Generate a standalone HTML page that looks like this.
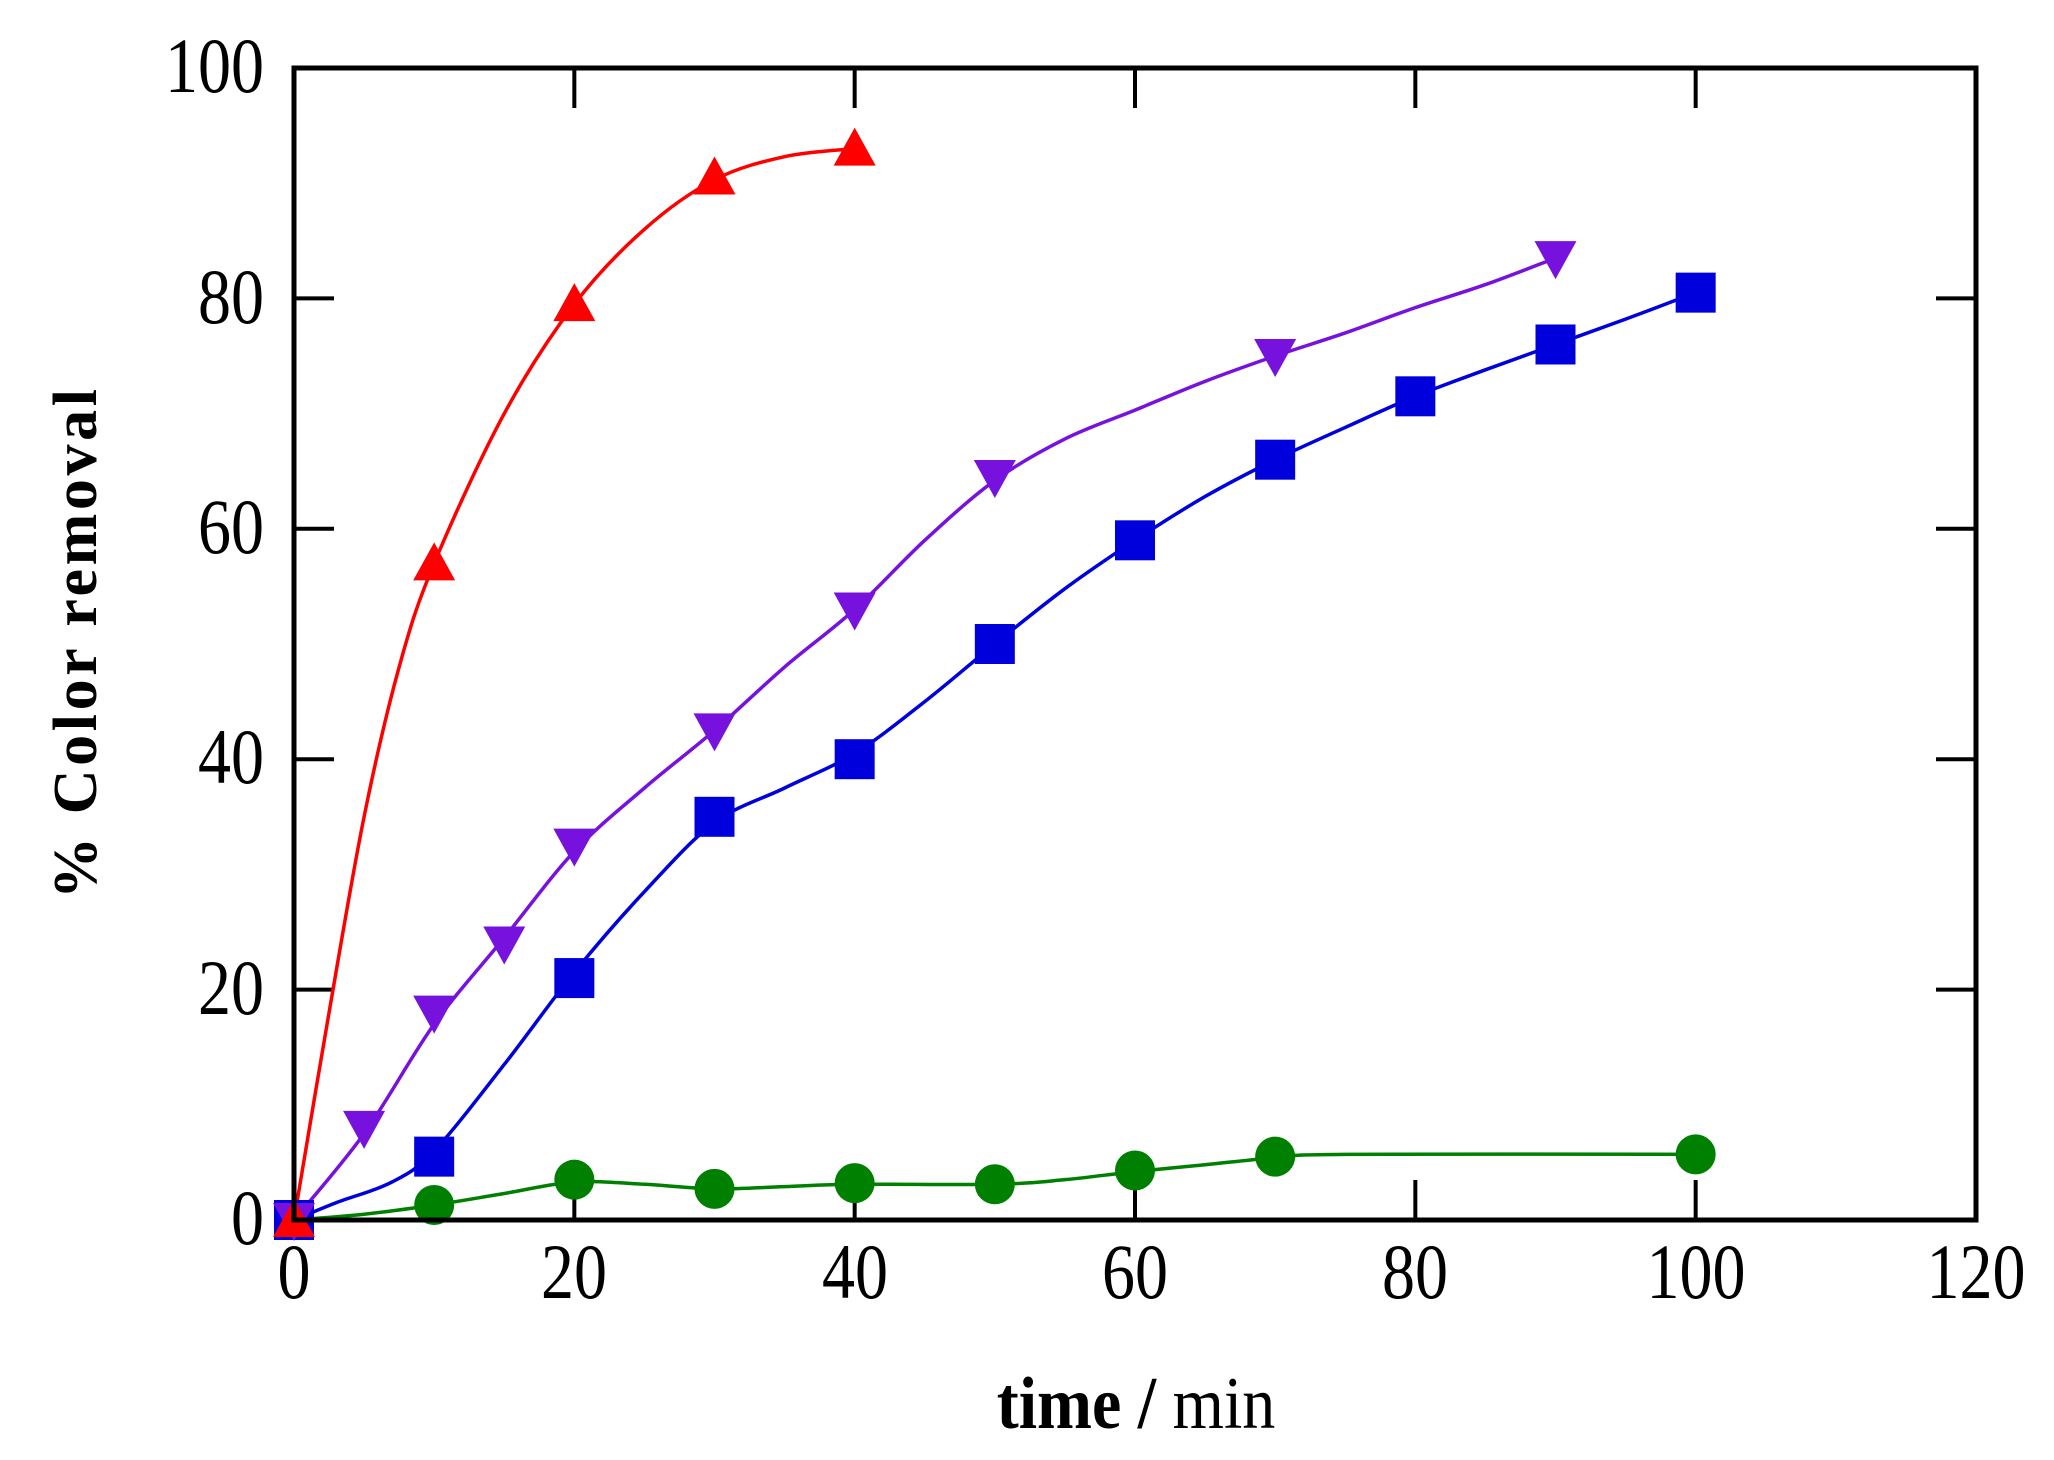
<!DOCTYPE html>
<html><head><meta charset="utf-8"><style>
html,body{margin:0;padding:0;background:#fff;}
svg{display:block;}
text{font-family:"Liberation Serif",serif;}
</style></head><body>
<svg id="s" width="2054" height="1460" viewBox="0 0 2054 1460" xmlns="http://www.w3.org/2000/svg">
<g id="ticks" stroke="#000" stroke-width="4"></g>
<g id="curves" fill="none" stroke-width="3.5"></g>
<g id="marks"></g>
<rect x="294" y="68" width="1682" height="1152" fill="none" stroke="#000" stroke-width="5"/>
<g font-size="66" fill="#000">
<g transform="translate(0,1298) scale(1,1.18)">
<text x="294" y="0" text-anchor="middle">0</text>
<text x="574" y="0" text-anchor="middle">20</text>
<text x="855" y="0" text-anchor="middle">40</text>
<text x="1135" y="0" text-anchor="middle">60</text>
<text x="1415" y="0" text-anchor="middle">80</text>
<text x="1696" y="0" text-anchor="middle">100</text>
<text x="1976" y="0" text-anchor="middle">120</text>
</g>
<g transform="translate(0,1244) scale(1,1.18)"><text x="264" y="0" text-anchor="end">0</text></g>
<g transform="translate(0,1014) scale(1,1.18)"><text x="264" y="0" text-anchor="end">20</text></g>
<g transform="translate(0,783) scale(1,1.18)"><text x="264" y="0" text-anchor="end">40</text></g>
<g transform="translate(0,553) scale(1,1.18)"><text x="264" y="0" text-anchor="end">60</text></g>
<g transform="translate(0,323) scale(1,1.18)"><text x="264" y="0" text-anchor="end">80</text></g>
<g transform="translate(0,92) scale(1,1.18)"><text x="264" y="0" text-anchor="end">100</text></g>
</g>
<text transform="translate(96,644) rotate(-90)" text-anchor="middle" font-size="62" font-weight="bold" textLength="510">% Color removal</text>
<g transform="translate(1136,1428) scale(1,1.12)"><text x="0" y="0" text-anchor="middle" font-size="66"><tspan font-weight="bold">time /</tspan> min</text></g>
</svg>
<script>
var X=v=>294+v*1682/120, Y=v=>1220-v*11.52;
var ns="http://www.w3.org/2000/svg";
function el(p,t,a){var e=document.createElementNS(ns,t);for(var k in a)e.setAttribute(k,a[k]);p.appendChild(e);return e;}
var tk=document.getElementById('ticks');
for(var i=20;i<=100;i+=20){el(tk,'line',{x1:X(i),x2:X(i),y1:1220,y2:1180});el(tk,'line',{x1:X(i),x2:X(i),y1:68,y2:108});}
for(var j=20;j<=80;j+=20){el(tk,'line',{x1:294,x2:334,y1:Y(j),y2:Y(j)});el(tk,'line',{x1:1976,x2:1936,y1:Y(j),y2:Y(j)});}
function path(pts){var P=pts.map(p=>[X(p[0]),Y(p[1])]);var d='M'+P[0][0]+' '+P[0][1];
for(var i=0;i<P.length-1;i++){var p0=P[i-1]||P[i],p1=P[i],p2=P[i+1],p3=P[i+2]||p2;
d+=' C'+(p1[0]+(p2[0]-p0[0])/6)+' '+(p1[1]+(p2[1]-p0[1])/6)+' '+(p2[0]-(p3[0]-p1[0])/6)+' '+(p2[1]-(p3[1]-p1[1])/6)+' '+p2[0]+' '+p2[1];}return d;}
var S=[
{c:'#008000',m:'o',d:[[0,0],[10,1.3],[20,3.5],[30,2.7],[40,3.2],[50,3.1],[60,4.3],[70,5.5],[100,5.7]],
 cd:[[0,0],[5,0.5],[10,1.3],[15,2.3],[20,3.3],[25,3.1],[30,2.7],[35,2.9],[40,3.1],[50,3.1],[55,3.5],[60,4.2],[65,4.8],[70,5.4],[75,5.7],[100,5.7]]},
{c:'#0000dd',m:'s',d:[[0,0],[10,5.5],[20,21],[30,35],[40,40],[50,50],[60,59],[70,66],[80,71.5],[90,76],[100,80.5]],
 cd:[[0,0],[3,1.5],[7,3.3],[10,6],[15,13.5],[20,21.5],[25,28.5],[30,34.5],[35,37.5],[40,40.5],[45,45],[50,50],[55,54.8],[60,59],[65,62.8],[70,66],[75,68.8],[80,71.5],[85,73.8],[90,76],[95,78.2],[100,80.5]]},
{c:'#7711dd',m:'v',d:[[0,0],[5,8],[10,18],[15,24],[20,32.5],[30,42.5],[40,53],[50,64.5],[70,75],[90,83.5]],
 cd:[[0,0],[5,7.5],[10,17],[15,24.5],[20,32],[25,37.5],[30,42.5],[35,48],[40,53],[45,59],[50,64.2],[55,67.8],[60,70.3],[65,72.8],[70,75],[75,77],[80,79.2],[85,81.2],[90,83.5]]},
{c:'#ff0000',m:'^',d:[[0,0],[10,57],[20,79.5],[30,90.5],[40,93]],
 cd:[[0,0],[2.5,18],[5,35],[7.5,48],[10,57],[15,70],[20,79.5],[25,86],[30,90.3],[35,92.3],[40,93]]}
];
var cv=document.getElementById('curves'),mg=document.getElementById('marks');
S.forEach(s=>{el(cv,'path',{d:path(s.cd),stroke:s.c});});
S.forEach(s=>{s.d.forEach((p,i)=>{var x=X(p[0]),y=Y(p[1]);
if(s.m=='o')el(mg,'circle',{cx:x,cy:y,r:20,fill:s.c});
else if(s.m=='s')el(mg,'rect',{x:x-20,y:y-20,width:40,height:40,fill:s.c});
else if(s.m=='v')el(mg,'polygon',{points:(x-21)+','+(y-17)+' '+(x+21)+','+(y-17)+' '+x+','+(y+21),fill:s.c});
else el(mg,'polygon',{points:(x-21)+','+(y+17)+' '+(x+21)+','+(y+17)+' '+x+','+(y-21),fill:s.c});});});
</script>
</body></html>
